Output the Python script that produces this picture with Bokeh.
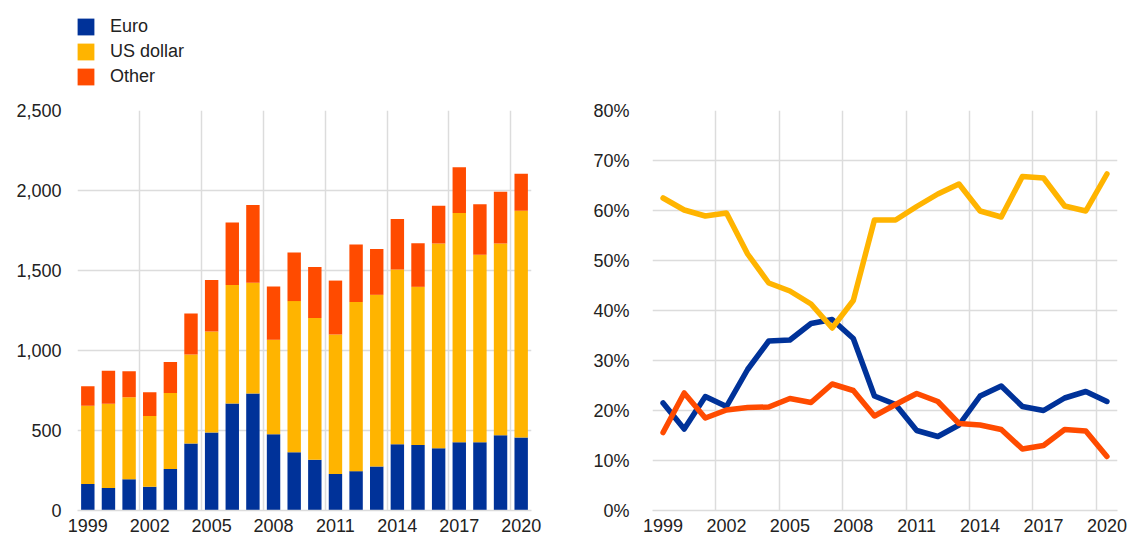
from bokeh.plotting import figure
from bokeh.layouts import row, column
from bokeh.models import (ColumnDataSource, Range1d, FixedTicker, NumeralTickFormatter,
                          PrintfTickFormatter, Legend)
from bokeh.embed import file_html
from bokeh.resources import INLINE

# ---- data ----
years = list(range(1999, 2021))
euro_amt = [166, 141, 195, 149, 259, 418, 487, 669, 731, 476, 364, 317, 228, 246, 275, 414, 410, 389, 427, 427, 470, 456]
usd_amt = [488, 526, 513, 441, 476, 557, 631, 741, 692, 591, 945, 886, 872, 1057, 1073, 1092, 988, 1280, 1433, 1172, 1199, 1418]
other_amt = [123, 207, 162, 149, 193, 257, 323, 390, 486, 333, 304, 319, 337, 360, 286, 316, 273, 236, 286, 315, 323, 230]

euro_share = [21.5, 16.3, 22.8, 20.8, 28.2, 33.9, 34.1, 37.4, 38.2, 34.4, 22.9, 21.2, 16.0, 14.8, 17.1, 22.9, 24.9, 20.8, 20.0, 22.5, 23.8, 21.8]
usd_share = [62.5, 60.1, 58.9, 59.5, 51.3, 45.5, 43.9, 41.3, 36.5, 42.0, 58.1, 58.1, 60.8, 63.3, 65.3, 59.9, 58.7, 66.8, 66.5, 60.9, 59.9, 67.3]
other_share = [15.6, 23.5, 18.5, 20.1, 20.6, 20.7, 22.4, 21.6, 25.3, 24.0, 18.9, 21.2, 23.4, 21.8, 17.4, 17.1, 16.2, 12.3, 13.0, 16.2, 15.9, 10.8]

series_names = ["Euro", "US dollar", "Other"]
colors = ["#003299", "#FFB400", "#FF4B00"]

label_ticks = [1999, 2002, 2005, 2008, 2011, 2014, 2017, 2020]
grid_ticks = [1998.5, 2001.5, 2004.5, 2007.5, 2010.5, 2013.5, 2016.5, 2019.5]
left_yticks = [0, 500, 1000, 1500, 2000, 2500]
right_yticks = [0, 10, 20, 30, 40, 50, 60, 70, 80]

FONT = "Liberation Sans"
TXT = "#222222"
GRID = "#dcdcdc"
LEG_H = 100
H = 440
TOP = 10
BOTTOM = 30


def style(p, yticks):
    p.outline_line_color = None
    p.xaxis.ticker = FixedTicker(ticks=label_ticks)
    p.yaxis.ticker = FixedTicker(ticks=yticks)
    p.xgrid.ticker = FixedTicker(ticks=grid_ticks)
    p.ygrid.ticker = FixedTicker(ticks=yticks)
    p.xgrid.grid_line_color = GRID
    p.ygrid.grid_line_color = GRID
    p.xgrid.grid_line_width = 1.5
    p.ygrid.grid_line_width = 1.5
    for ax in (p.xaxis[0], p.yaxis[0]):
        ax.major_tick_line_color = None
        ax.minor_tick_line_color = None
        ax.major_tick_out = 0
        ax.major_tick_in = 0
        ax.minor_tick_out = 0
        ax.major_label_text_font = FONT
        ax.major_label_text_font_size = "18px"
        ax.major_label_text_color = TXT
    p.xaxis.axis_line_color = GRID
    p.xaxis.axis_line_width = 1.5
    p.yaxis.axis_line_color = None
    p.xaxis.major_label_standoff = 8


src = ColumnDataSource(dict(year=years, Euro=euro_amt, USD=usd_amt, Other=other_amt))

# ---- legend strip (its bars fall outside the visible range; only the legend shows) ----
pl = figure(width=1128, height=LEG_H, output_backend="svg", toolbar_location=None,
            x_axis_type=None, y_axis_type=None, x_range=Range1d(0, 1), y_range=Range1d(0, 1),
            min_border=0)
pl.outline_line_color = None
pl.xgrid.visible = False
pl.ygrid.visible = False
leg_rs = pl.vbar_stack(["Euro", "USD", "Other"], x="year", width=0.65, source=src,
                       color=colors, line_color=None)
legend = Legend(items=[(n, [r]) for n, r in zip(series_names, leg_rs)],
                location=(75, 13), orientation="vertical",
                glyph_width=21, glyph_height=21, label_height=17, spacing=4,
                label_standoff=14, padding=0, margin=0,
                label_text_font=FONT, label_text_font_size="18px", label_text_color=TXT,
                background_fill_alpha=0, border_line_color=None)
pl.add_layout(legend)

# ---- left chart: stacked bars ----
p1 = figure(width=560, height=H, output_backend="svg", toolbar_location=None,
            x_range=Range1d(1998.5, 2020.5), y_range=Range1d(0, 2500),
            min_border_left=77, min_border_right=29, min_border_top=TOP, min_border_bottom=BOTTOM)
p1.vbar_stack(["Euro", "USD", "Other"], x="year", width=0.65, source=src,
              color=colors, line_color=None)
style(p1, left_yticks)
p1.yaxis.formatter = NumeralTickFormatter(format="0,0")
p1.yaxis.major_label_standoff = 16

# ---- right chart: shares ----
p2 = figure(width=568, height=H, output_backend="svg", toolbar_location=None,
            x_range=Range1d(1998.5, 2020.5), y_range=Range1d(0, 80),
            min_border_left=92, min_border_right=11, min_border_top=TOP, min_border_bottom=BOTTOM)
for vals, c in zip([euro_share, usd_share, other_share], colors):
    p2.line(years, vals, line_color=c, line_width=5.5, line_join="round", line_cap="round")
style(p2, right_yticks)
p2.yaxis.formatter = PrintfTickFormatter(format="%d%%")
p2.yaxis.major_label_standoff = 23

layout = column(pl, row(p1, p2))
open("out.html", "w").write(file_html(layout, INLINE))
